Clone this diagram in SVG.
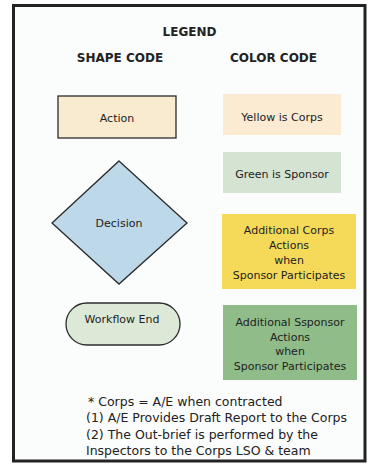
<svg xmlns="http://www.w3.org/2000/svg" width="371" height="464" viewBox="0 0 371 464">
<style>
text{font-family:"DejaVu Sans","Liberation Sans",sans-serif;fill:#222;}
.h{font-weight:bold;font-size:12px;text-anchor:middle;}
.t{font-size:11px;text-anchor:middle;}
.f{font-size:12.5px;}
.sh{stroke:#2b2b2b;stroke-width:1.3;}
</style>
<rect x="0" y="0" width="371" height="464" fill="#ffffff"/>
<rect id="frame" x="13.5" y="5.5" width="351.5" height="455.5" fill="#fbfcfc" stroke="#222" stroke-width="3"/>
<g id="titles">
<text class="h" x="189.5" y="36">LEGEND</text>
<text class="h" x="120" y="62">SHAPE CODE</text>
<text class="h" x="273.5" y="62">COLOR CODE</text>
</g>
<g id="action">
<rect class="sh" x="58" y="96" width="118" height="42" fill="#f9ebd0"/>
<text class="t" x="117" y="122">Action</text>
</g>
<g id="decision">
<polygon class="sh" points="119,161 187,223 119,284 52,223" fill="#bdd8e8"/>
<text class="t" x="119" y="227">Decision</text>
</g>
<g id="workflow-end">
<rect class="sh" x="66" y="303" width="114" height="42" rx="21" ry="21" fill="#dde9d7"/>
<text class="t" x="122" y="323">Workflow End</text>
</g>
<g id="yellow">
<rect x="223" y="94" width="118" height="41" fill="#fbebd3"/>
<text class="t" x="282" y="121">Yellow is Corps</text>
</g>
<g id="green">
<rect x="223" y="152" width="118" height="41" fill="#d4e3d2"/>
<text class="t" x="282" y="178">Green is Sponsor</text>
</g>
<g id="add-corps">
<rect x="222" y="214" width="134" height="75" fill="#f5da5a"/>
<text class="t" x="289" y="234">Additional Corps</text>
<text class="t" x="289" y="249">Actions</text>
<text class="t" x="289" y="264">when</text>
<text class="t" x="289" y="279">Sponsor Participates</text>
</g>
<g id="add-sponsor">
<rect x="223" y="305" width="134" height="75" fill="#8fbc89"/>
<text class="t" x="290" y="326">Additional Ssponsor</text>
<text class="t" x="290" y="341">Actions</text>
<text class="t" x="290" y="355">when</text>
<text class="t" x="290" y="370">Sponsor Participates</text>
</g>
<g id="connectors"></g>
<g id="notes">
<text class="f" x="88" y="406">* Corps = A/E when contracted</text>
<text class="f" x="86" y="422">(1)  A/E Provides Draft Report to the Corps</text>
<text class="f" x="86" y="439">(2)  The Out-brief is performed by the</text>
<text class="f" x="86" y="455">Inspectors to the Corps LSO &amp; team</text>
</g>
</svg>
